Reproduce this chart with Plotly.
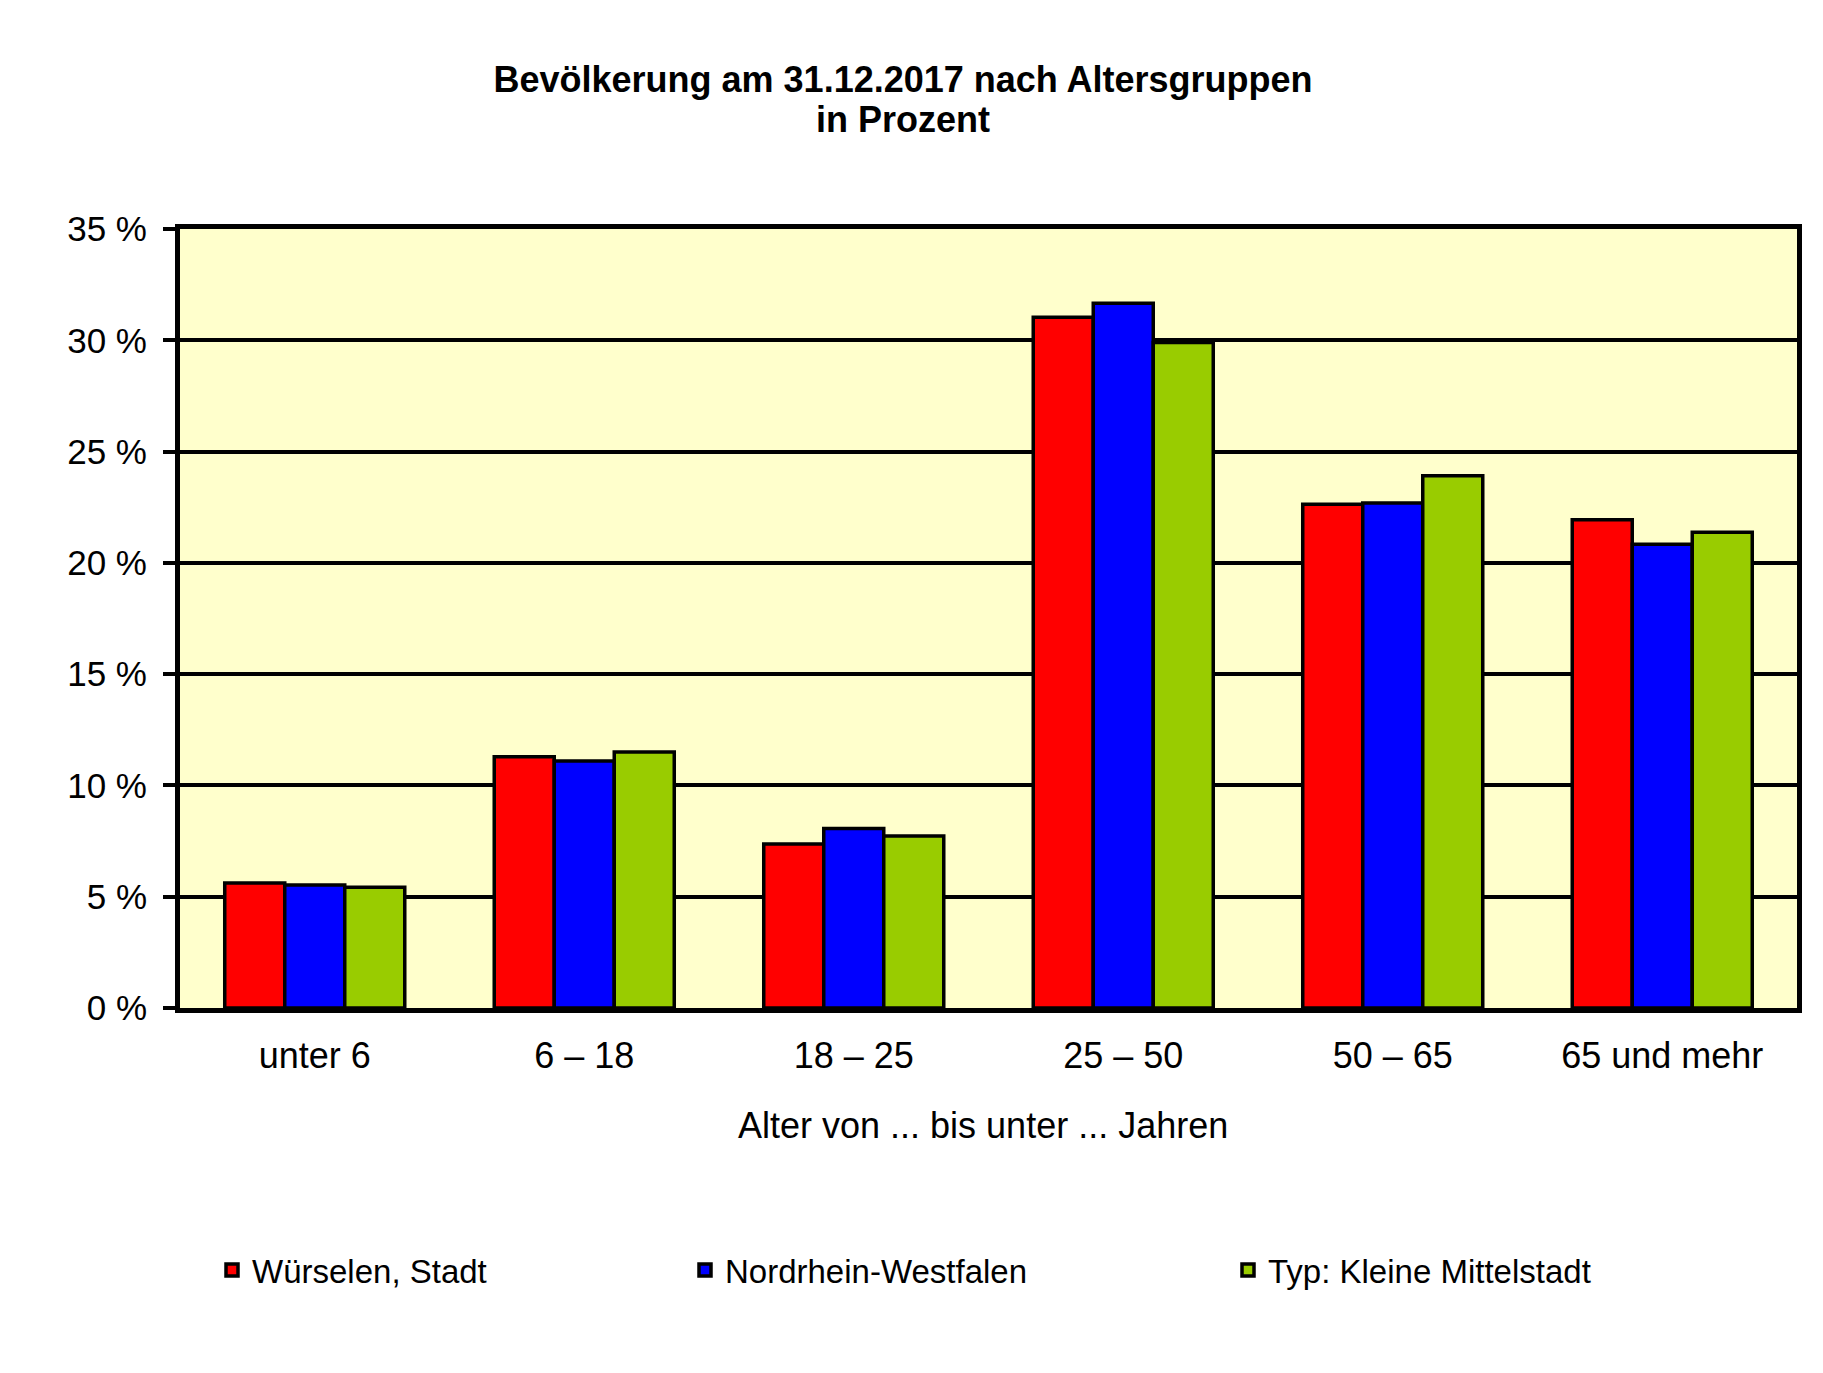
import plotly.graph_objects as go

categories = ["unter 6", "6 – 18", "18 – 25", "25 – 50", "50 – 65", "65 und mehr"]
series_names = ["Würselen, Stadt", "Nordrhein-Westfalen", "Typ: Kleine Mittelstadt"]
wuerselen = [5.62, 11.29, 7.37, 31.04, 22.63, 21.94]
nrw = [5.53, 11.10, 8.06, 31.66, 22.69, 20.84]
mittelstadt = [5.42, 11.50, 7.73, 29.90, 23.91, 21.38]
y_tickvals = [0, 5, 10, 15, 20, 25, 30, 35]
y_ticktext = ["0 %", "5 %", "10 %", "15 %", "20 %", "25 %", "30 %", "35 %"]
title_line1 = "Bevölkerung am 31.12.2017 nach Altersgruppen"
title_line2 = "in Prozent"
x_title = "Alter von ... bis unter ... Jahren"

colors = ["#FF0000", "#0000FF", "#99CC00"]
values = [wuerselen, nrw, mittelstadt]
legend_ids = ["legend", "legend2", "legend3"]
legend_x = [204, 677, 1220]

FONT = "Liberation Sans, Arial, sans-serif"
W, H = 1823, 1373
ML, MR, MT, MB = 172, 34, 221, 373
PW, PH = W - ML - MR, H - MT - MB

fig = go.Figure()
for name, vals, col, lid in zip(series_names, values, colors, legend_ids):
    fig.add_trace(go.Bar(
        x=categories, y=vals, name=name,
        marker=dict(color=col, line=dict(color="black", width=3.5)),
        legend=lid, showlegend=True,
    ))

legend_common = dict(
    orientation="h", xref="container", yref="container",
    yanchor="middle", xanchor="left", bgcolor="rgba(0,0,0,0)",
    font=dict(family=FONT, size=33, color="black"),
    visible=True,
)

title_cx = 903 - 8  # figure px

fig.update_layout(
    width=W, height=H,
    margin=dict(l=ML, r=MR, t=MT, b=MB),
    paper_bgcolor="white", plot_bgcolor="#FFFFCC",
    barmode="group", bargap=0.332, bargroupgap=0,
    showlegend=True,
    font=dict(family=FONT, color="black"),
    title=dict(
        text="<b>" + title_line1 + "</b>",
        x=title_cx / W, xref="container", xanchor="center",
        y=1 - 71.5 / H, yref="container", yanchor="middle",
        font=dict(family=FONT, size=36, color="black"),
    ),
    annotations=[
        dict(
            text="<b>" + title_line2 + "</b>",
            xref="paper", yref="paper",
            x=(title_cx - ML) / PW, y=1 + (MT - 112) / PH,
            xanchor="center", yanchor="middle", showarrow=False,
            font=dict(family=FONT, size=36, color="black"),
        ),
        dict(
            text=x_title,
            xref="paper", yref="paper",
            x=(975 - ML) / PW, y=((H - MB) - 1117) / PH,
            xanchor="center", yanchor="middle", showarrow=False,
            font=dict(family=FONT, size=36, color="black"),
        ),
    ],
    xaxis=dict(
        showline=True, linecolor="black", linewidth=5, mirror=True,
        ticks="", showgrid=False,
        tickfont=dict(family=FONT, size=36, color="black"),
        ticklabelstandoff=12,
    ),
    yaxis=dict(
        range=[0, 35], tickvals=y_tickvals, ticktext=y_ticktext,
        showline=True, linecolor="black", linewidth=5, mirror=True,
        ticks="outside", ticklen=12, tickwidth=3.5, tickcolor="black",
        showgrid=True, gridcolor="black", gridwidth=3.5, zeroline=False,
        tickfont=dict(family=FONT, size=35, color="black"),
        ticklabelstandoff=9,
    ),
    legend=dict(x=legend_x[0] / W, y=1 - 1262 / H, **legend_common),
    legend2=dict(x=legend_x[1] / W, y=1 - 1262 / H, **legend_common),
    legend3=dict(x=legend_x[2] / W, y=1 - 1262 / H, **legend_common),
)

fig.write_html("out.html")
